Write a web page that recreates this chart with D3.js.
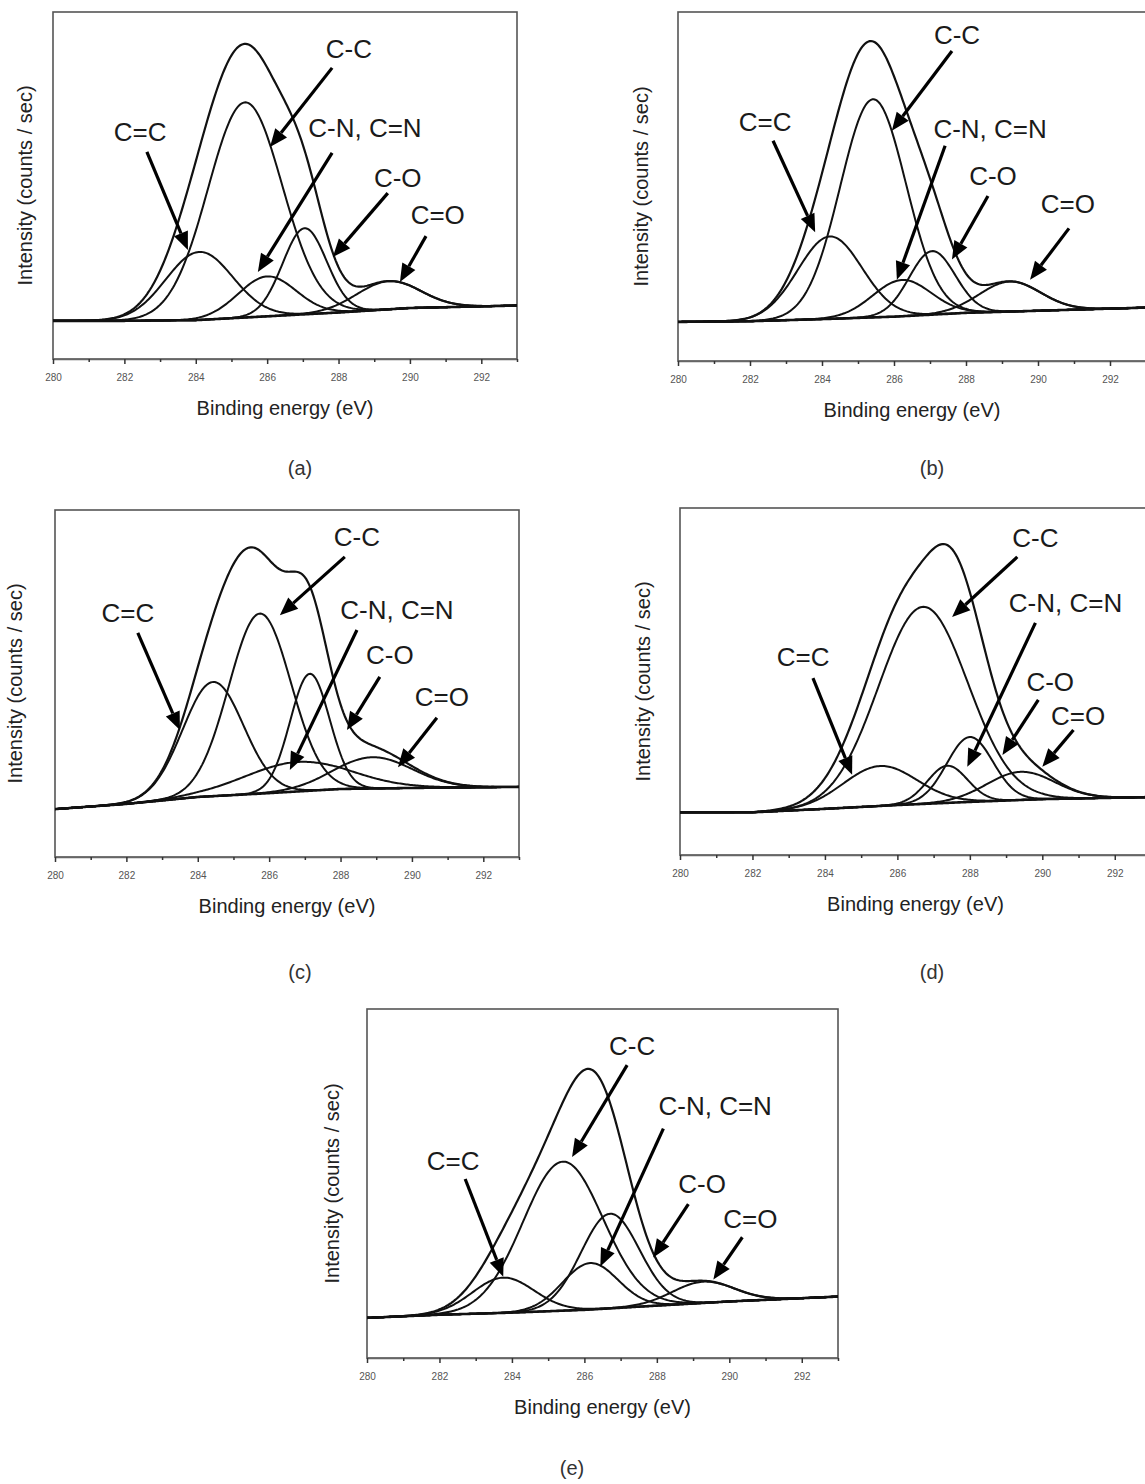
<!DOCTYPE html>
<html>
<head>
<meta charset="utf-8">
<script src="https://cdn.jsdelivr.net/npm/d3@7"></script>
<style>
	body { margin: 0; background: #fff; }
	text { font-family: "Liberation Sans", Arial, sans-serif; }
</style>
</head>
<body>
<script>
// --- data ---
var energyTicks = [280, 282, 284, 286, 288, 290, 292];
var minorTicks = [281, 283, 285, 287, 289, 291, 293];
var componentNames = ['C=C', 'C-C', 'C-N, C=N', 'C-O', 'C=O'];
var panelNames = ['(a)', '(b)', '(c)', '(d)', '(e)'];

// peak position (eV), height (a.u. above background), FWHM (eV) : C=C, C-C, C-N, C-O, C=O
var peakCenters = [
	[284.1, 285.38, 286.0, 287.05, 289.4],
	[284.22, 285.42, 286.22, 287.06, 289.22],
	[284.43, 285.74, 286.8, 287.14, 288.9],
	[285.52, 286.71, 287.38, 288.0, 289.4],
	[283.76, 285.41, 286.16, 286.71, 289.28]
];
var peakHeights = [
	[19.6, 62, 11.5, 24.8, 8.1],
	[23.6, 62.5, 10.4, 18.2, 8.6],
	[32.9, 51.9, 8.5, 33.7, 9],
	[11.5, 56.8, 10.7, 18.7, 8.1],
	[10.1, 42.7, 13.3, 27.1, 6.1]
];
var peakWidths = [
	[2.2, 2.45, 1.9, 1.45, 2.1],
	[2.1, 2.15, 1.9, 1.5, 2.0],
	[2.0, 2.05, 3.5, 1.3, 2.6],
	[2.4, 2.9, 1.3, 1.5, 2.2],
	[2.0, 2.6, 1.8, 1.9, 2.0]
];

// background (Shirley type) levels
var bgEnergies = [280, 282, 284, 286, 288, 290, 293];
var bgLevels = [
	[11.0, 11.0, 11.2, 12.3, 13.4, 14.7, 15.4],
	[11.2, 11.4, 12.0, 12.7, 13.8, 14.4, 15.3],
	[13.8, 15.3, 17.3, 18.4, 19.6, 19.9, 20.2],
	[12.3, 12.3, 13.3, 14.4, 15.3, 16.1, 16.7],
	[11.5, 12.4, 13.0, 13.8, 15.0, 16.2, 17.6]
];

// annotations in data units [eV, intensity]
var labelAt = [
	[[282.44, 65.4], [288.29, 89.3], [288.74, 66.6], [289.66, 52.4], [290.78, 41.5]],
	[[282.42, 68.6], [287.75, 93.4], [288.67, 66.6], [288.75, 53.0], [290.83, 45.0]],
	[[282.04, 70.3], [288.46, 92.2], [289.58, 71.2], [289.38, 58.2], [290.84, 46.1]],
	[[283.40, 57.1], [289.81, 91.4], [290.64, 72.6], [290.22, 49.9], [290.99, 40.3]],
	[[282.38, 56.5], [287.32, 89.6], [289.61, 72.3], [289.25, 49.9], [290.58, 39.8]]
];
var arrowFrom = [
	[[282.63, 59.7], [287.82, 83.9], [287.82, 59.4], [289.38, 47.8], [290.45, 35.4]],
	[[282.64, 63.1], [287.61, 88.8], [287.42, 61.7], [288.61, 47.3], [290.86, 38.0]],
	[[282.32, 64.6], [288.12, 86.5], [288.46, 65.4], [289.10, 51.9], [290.70, 40.1]],
	[[283.67, 51.0], [289.31, 85.9], [289.81, 66.9], [289.89, 44.7], [290.86, 36.0]],
	[[282.71, 51.3], [287.18, 83.9], [288.18, 65.7], [288.87, 44.1], [290.36, 34.6]]
];
var arrowTo = [
	[[283.78, 31.4], [286.08, 61.1], [285.74, 25.1], [287.84, 29.4], [289.72, 22.2]],
	[[283.81, 36.9], [285.94, 66.0], [286.08, 23.3], [287.61, 29.1], [289.78, 23.3]],
	[[283.50, 36.6], [286.30, 69.7], [286.58, 25.1], [288.18, 36.6], [289.61, 25.9]],
	[[284.75, 23.1], [287.51, 68.6], [287.93, 25.4], [288.90, 28.8], [290.00, 25.4]],
	[[283.76, 23.3], [285.66, 57.6], [286.44, 26.2], [287.90, 28.8], [289.56, 22.5]]
];

// --- layout ---
var panels = [
	{x: 53, y: 12, w: 464, h: 347, yt: 25, cx: 300, cy: 475},
	{x: 678, y: 12, w: 468, h: 349, yt: 641, cx: 932, cy: 475},
	{x: 55, y: 510, w: 464, h: 347, yt: 15, cx: 300, cy: 979},
	{x: 680, y: 508, w: 471, h: 347, yt: 643, cx: 932, cy: 979},
	{x: 367, y: 1009, w: 471, h: 349, yt: 332, cx: 572, cy: 1475}
];

var svg = d3.select('body').append('svg')
	.attr('width', 1145)
	.attr('height', 1484);

var samples = d3.range(280, 293.0001, 0.04);

function gauss(e, c, h, w) { return h * Math.exp(-4 * Math.LN2 * (e - c) * (e - c) / (w * w)); }

function arrowHead(x0, y0, x1, y1)
{
	var dx = x1 - x0, dy = y1 - y0;
	var len = Math.sqrt(dx*dx + dy*dy);
	var ux = dx/len, uy = dy/len;
	var hl = 18, hw = 7.5;
	var bx = x1 - ux*hl, by = y1 - uy*hl;
	return {
		base: [bx, by],
		d: 'M' + x1 + ',' + y1 + 'L' + (bx - uy*hw) + ',' + (by + ux*hw) + 'L' + (bx + uy*hw) + ',' + (by - ux*hw) + 'Z'
	};
}

panels.forEach(function(box, p) {
	var x = d3.scaleLinear().domain([280, 293]).range([box.x, box.x + box.w]);
	var y = d3.scaleLinear().domain([0, 100]).range([box.y + box.h, box.y]);
	var bg = d3.scaleLinear().domain(bgEnergies).range(bgLevels[p]);

	var g = svg.append('g');

	g.append('clipPath').attr('id', 'clip' + p)
		.append('rect')
		.attr('x', box.x).attr('y', box.y)
		.attr('width', box.w).attr('height', box.h);

	// frame
	g.append('rect')
		.attr('x', box.x).attr('y', box.y)
		.attr('width', box.w).attr('height', box.h)
		.attr('fill', 'none')
		.attr('stroke', '#555')
		.attr('stroke-width', 1.6);

	// axis
	var ax = g.append('g')
		.attr('transform', 'translate(0,' + (box.y + box.h) + ')')
		.call(d3.axisBottom(x).tickValues(energyTicks).tickSize(5).tickPadding(10).tickSizeOuter(0).tickFormat(d3.format('d')));
	ax.select('.domain').attr('stroke', '#666').attr('stroke-width', 1.6);
	ax.selectAll('.tick line').attr('stroke', '#333').attr('stroke-width', 1.5);
	ax.selectAll('.tick text')
		.attr('font-size', 10)
		.attr('fill', '#555');
	g.append('g')
		.attr('transform', 'translate(0,' + (box.y + box.h) + ')')
		.call(d3.axisBottom(x).tickValues(minorTicks).tickSize(3).tickSizeOuter(0).tickFormat(''))
		.call(function(s) { s.select('.domain').remove(); s.selectAll('.tick line').attr('stroke', '#333').attr('stroke-width', 1.5); });

	g.append('text')
		.attr('x', box.x + box.w / 2)
		.attr('y', box.y + box.h + 56)
		.attr('text-anchor', 'middle')
		.attr('font-size', 20)
		.attr('fill', '#222')
		.text('Binding energy (eV)');

	g.append('text')
		.attr('transform', 'translate(' + box.yt + ',' + (box.y + box.h / 2) + ') rotate(-90)')
		.attr('text-anchor', 'middle')
		.attr('dy', '0.35em')
		.attr('font-size', 20)
		.attr('fill', '#222')
		.text('Intensity (counts / sec)');

	// curves
	var line = d3.line()
		.x(function(d) { return x(d[0]); })
		.y(function(d) { return y(d[1]); });

	var curves = g.append('g').attr('clip-path', 'url(#clip' + p + ')');

	componentNames.forEach(function(name, k) {
		var pts = samples.map(function(e) {
			return [e, bg(e) + gauss(e, peakCenters[p][k], peakHeights[p][k], peakWidths[p][k])];
		});
		curves.append('path')
			.attr('d', line(pts))
			.attr('fill', 'none')
			.attr('stroke', '#111')
			.attr('stroke-width', 2);
	});

	var env = samples.map(function(e) {
		var s = bg(e);
		for (var k = 0; k < componentNames.length; k += 1)
			s += gauss(e, peakCenters[p][k], peakHeights[p][k], peakWidths[p][k]);
		return [e, s];
	});
	curves.append('path')
		.attr('d', line(env))
		.attr('fill', 'none')
		.attr('stroke', '#111')
		.attr('stroke-width', 2.2);

	curves.append('path')
		.attr('d', line(samples.map(function(e) { return [e, bg(e)]; })))
		.attr('fill', 'none')
		.attr('stroke', '#111')
		.attr('stroke-width', 2.6);

	// annotations
	componentNames.forEach(function(name, k) {
		var x0 = x(arrowFrom[p][k][0]), y0 = y(arrowFrom[p][k][1]);
		var x1 = x(arrowTo[p][k][0]), y1 = y(arrowTo[p][k][1]);
		var head = arrowHead(x0, y0, x1, y1);
		g.append('line')
			.attr('x1', x0).attr('y1', y0)
			.attr('x2', head.base[0]).attr('y2', head.base[1])
			.attr('stroke', '#000')
			.attr('stroke-width', 3.2);
		g.append('path')
			.attr('d', head.d)
			.attr('fill', '#000');
		g.append('text')
			.attr('x', x(labelAt[p][k][0]))
			.attr('y', y(labelAt[p][k][1]))
			.attr('text-anchor', 'middle')
			.attr('dy', '0.36em')
			.attr('font-size', 26)
			.attr('fill', '#1a1a1a')
			.text(name);
	});

	svg.append('text')
		.attr('x', box.cx)
		.attr('y', box.cy)
		.attr('text-anchor', 'middle')
		.attr('font-size', 20)
		.attr('fill', '#333')
		.text(panelNames[p]);
});
</script>
</body>
</html>
